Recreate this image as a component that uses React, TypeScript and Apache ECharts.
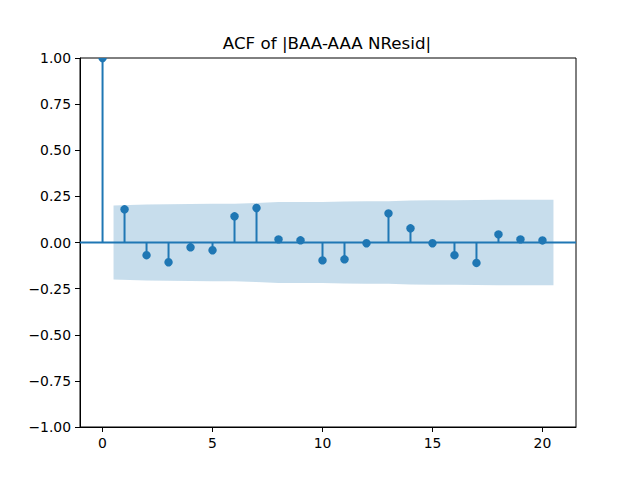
import React, { useEffect, useRef } from "react";
import * as echarts from "echarts";

const lags = [0, 1, 2, 3, 4, 5, 6, 7, 8, 9, 10, 11, 12, 13, 14, 15, 16, 17, 18, 19, 20];
const acfValues = [
  1.0, 0.18, -0.069, -0.107, -0.026, -0.042, 0.142, 0.187, 0.017, 0.012, -0.097,
  -0.091, -0.004, 0.158, 0.077, -0.004, -0.069, -0.111, 0.044, 0.017, 0.011,
];
const bandX = [0.5, 2, 3, 4, 5, 6, 7, 8, 9, 10, 11, 12, 13, 14, 15, 16, 17, 18, 19, 20.5];
const bandHalfWidth = [
  0.2, 0.206, 0.207, 0.209, 0.21, 0.21, 0.214, 0.22, 0.22, 0.22, 0.222, 0.224, 0.224,
  0.228, 0.229, 0.229, 0.23, 0.232, 0.232, 0.232,
];
const xTicks = [0, 5, 10, 15, 20];
const xMin = -1.025;
const xMax = 21.525;
const titleText = "ACF of |BAA-AAA NResid|";

const C0 = "#1f77b4";
const FONT = "DejaVu Sans";

export default function App() {
  const ref = useRef<HTMLDivElement>(null);
  useEffect(() => {
    document.body.style.margin = "0";
    if (!ref.current) return;
    const chart = echarts.init(ref.current, undefined, { renderer: "svg" });
    const bandData = bandX.map((x, i) => [x, bandHalfWidth[i]]);
    const pointData = lags.map((l, i) => [l, acfValues[i]]);
    chart.setOption({
      animation: false,
      backgroundColor: "#ffffff",
      graphic: [
        {
          type: "text",
          x: 327,
          y: 43,
          style: {
            text: titleText,
            align: "center",
            verticalAlign: "middle",
            fontFamily: FONT,
            fontSize: 16.7,
            fill: "#000",
          },
        },
      ],
      grid: {
        left: 80,
        right: 64,
        top: 58,
        bottom: 53,
        show: true,
        borderColor: "#000",
        borderWidth: 1,
        backgroundColor: "transparent",
      },
      xAxis: {
        type: "value",
        min: xMin,
        max: xMax,
        axisLine: { show: true, onZero: false, lineStyle: { color: "#000", width: 1 } },
        axisTick: { show: true, length: 5, lineStyle: { color: "#000" }, customValues: xTicks },
        axisLabel: {
          customValues: xTicks,
          margin: 9,
          fontFamily: FONT,
          fontSize: 13.9,
          color: "#000",
        },
        splitLine: { show: false },
      },
      yAxis: {
        type: "value",
        min: -1,
        max: 1,
        interval: 0.25,
        axisLine: { show: true, onZero: false, lineStyle: { color: "#000", width: 1 } },
        axisTick: { show: true, length: 5, lineStyle: { color: "#000" } },
        axisLabel: {
          margin: 9,
          fontFamily: FONT,
          fontSize: 13.9,
          color: "#000",
          formatter: (v: number) => v.toFixed(2).replace("-", "\u2212"),
        },
        splitLine: { show: false },
      },
      series: [
        {
          type: "custom",
          z: 1,
          clip: true,
          data: bandData,
          renderItem: (params: any, api: any) => {
            if (params.dataIndex !== 0) return null;
            const top = bandData.map((d) => api.coord([d[0], d[1]]));
            const bottom = bandData.map((d) => api.coord([d[0], -d[1]])).reverse();
            return {
              type: "polygon",
              shape: { points: top.concat(bottom) },
              style: { fill: "rgba(31,119,180,0.25)", stroke: "none" },
            };
          },
        },
        {
          type: "line",
          z: 2,
          data: [
            [xMin, 0],
            [xMax, 0],
          ],
          symbol: "none",
          lineStyle: { color: C0, width: 2 },
          silent: true,
        },
        {
          type: "custom",
          z: 3,
          clip: true,
          data: pointData,
          renderItem: (params: any, api: any) => {
            const x = api.value(0);
            const y = api.value(1);
            const p0 = api.coord([x, 0]);
            const p1 = api.coord([x, y]);
            return {
              type: "group",
              children: [
                {
                  type: "line",
                  shape: { x1: p0[0], y1: p0[1], x2: p1[0], y2: p1[1] },
                  style: { stroke: C0, lineWidth: 2 },
                },
                {
                  type: "circle",
                  shape: { cx: p1[0], cy: p1[1], r: 4.2 },
                  style: { fill: C0, stroke: "none" },
                },
              ],
            };
          },
        },
      ],
    });
    return () => chart.dispose();
  }, []);
  return <div ref={ref} style={{ width: 640, height: 480 }} />;
}
